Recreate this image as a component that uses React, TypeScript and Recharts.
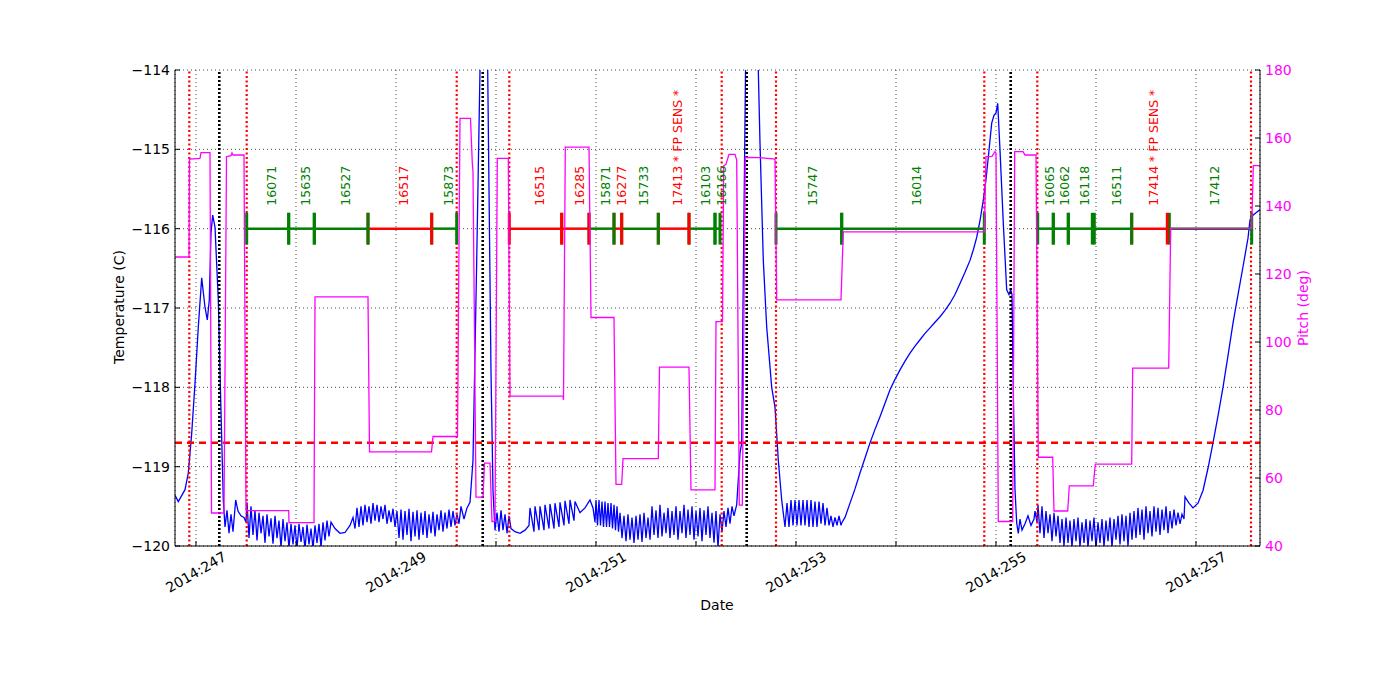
import React from 'react';
import { ComposedChart, Line, XAxis, YAxis, CartesianGrid, ReferenceLine, Scatter, Label } from 'recharts';

// x = day of year 2014
const dayTicks = [247, 248, 249, 250, 251, 252, 253, 254, 255, 256, 257];
const dayLabels = ['2014:247', '', '2014:249', '', '2014:251', '', '2014:253', '', '2014:255', '', '2014:257'];
const tempTicks = [-120, -119, -118, -117, -116, -115, -114];
const pitchTicks = [40, 60, 80, 100, 120, 140, 160, 180];

// FPTEMP (C)
const fptemp: [number, number][] = [
  [246.79, -119.36], [246.823, -119.44], [246.89, -119.29], [246.923, -119.08], [246.957, -118.58], [246.99, -117.95],
  [247.023, -117.24], [247.057, -116.62], [247.09, -116.99], [247.113, -117.15], [247.133, -116.9], [247.15, -116.05],
  [247.167, -115.83], [247.19, -115.98], [247.223, -116.9], [247.247, -118.16], [247.273, -119.42], [247.29, -119.76],
  [247.31, -119.55], [247.33, -119.84], [247.35, -119.6], [247.37, -119.82], [247.397, -119.42], [247.42, -119.56],
  [247.45, -119.62], [247.48, -119.64], [247.5, -119.7], [247.51, -119.45],
  [247.53, -119.9], [247.55, -119.5], [247.57, -119.86], [247.59, -119.55], [247.61, -119.93], [247.63, -119.58],
  [247.65, -119.84], [247.67, -119.62], [247.69, -119.96], [247.71, -119.6], [247.73, -119.88], [247.75, -119.65],
  [247.77, -119.97], [247.79, -119.62], [247.81, -119.9], [247.83, -119.68], [247.85, -120.02], [247.87, -119.66],
  [247.89, -119.94], [247.91, -119.7], [247.93, -120.03], [247.95, -119.72], [247.97, -119.98], [247.99, -119.74],
  [248.01, -120.03], [248.03, -119.72], [248.05, -119.95], [248.07, -119.76], [248.09, -120.04], [248.11, -119.73],
  [248.13, -119.98], [248.15, -119.78], [248.17, -120.03], [248.19, -119.74], [248.21, -119.96], [248.23, -119.72],
  [248.25, -120.02], [248.27, -119.7], [248.29, -119.93], [248.31, -119.68], [248.33, -119.88], [248.35, -119.7],
  [248.39, -119.78], [248.44, -119.84], [248.49, -119.83], [248.54, -119.74], [248.57, -119.64],
  [248.59, -119.78], [248.61, -119.52], [248.63, -119.76], [248.65, -119.5], [248.67, -119.74], [248.69, -119.48],
  [248.71, -119.7], [248.73, -119.5], [248.75, -119.72], [248.77, -119.46], [248.79, -119.68], [248.81, -119.48],
  [248.83, -119.7], [248.85, -119.5], [248.87, -119.66], [248.89, -119.48], [248.91, -119.72], [248.93, -119.55],
  [248.95, -119.7], [248.97, -119.53], [248.99, -119.76],
  [249.01, -119.56], [249.03, -119.9], [249.05, -119.54], [249.07, -119.92], [249.09, -119.56], [249.11, -119.86],
  [249.13, -119.53], [249.15, -119.94], [249.17, -119.57], [249.19, -119.88], [249.21, -119.55], [249.23, -119.92],
  [249.25, -119.58], [249.27, -119.86], [249.29, -119.56], [249.31, -119.9], [249.33, -119.6], [249.35, -119.84],
  [249.37, -119.57], [249.39, -119.88], [249.41, -119.6], [249.43, -119.8], [249.45, -119.55], [249.47, -119.82],
  [249.49, -119.58], [249.51, -119.78], [249.53, -119.54], [249.55, -119.76], [249.57, -119.56], [249.59, -119.74],
  [249.61, -119.6], [249.63, -119.72], [249.65, -119.5], [249.68, -119.66], [249.71, -119.52], [249.74, -119.45],
  [249.77, -118.92], [249.807, -116.4], [249.84, -114.0], [249.86, -113.0], [249.89, -112.6], [249.91, -113.2],
  [249.93, -115.5], [249.95, -117.8], [249.97, -119.3], [249.99, -119.8],
  [250.01, -119.58], [250.03, -119.82], [250.05, -119.55], [250.07, -119.8], [250.09, -119.6], [250.11, -119.84],
  [250.13, -119.62], [250.15, -119.78], [250.19, -119.82], [250.24, -119.84], [250.29, -119.8], [250.33, -119.74],
  [250.34, -119.52], [250.38, -119.82], [250.39, -119.5], [250.43, -119.8], [250.44, -119.5], [250.48, -119.8],
  [250.49, -119.48], [250.53, -119.78], [250.54, -119.47], [250.58, -119.78], [250.59, -119.46], [250.63, -119.76],
  [250.64, -119.45], [250.68, -119.74], [250.69, -119.43], [250.73, -119.72], [250.74, -119.42], [250.78, -119.68],
  [250.79, -119.44], [250.84, -119.58], [250.89, -119.52], [250.94, -119.42], [250.97, -119.52], [250.99, -119.7],
  [251.0, -119.42], [251.015, -119.74], [251.03, -119.42], [251.045, -119.74], [251.06, -119.44], [251.075, -119.76],
  [251.09, -119.44], [251.105, -119.76], [251.12, -119.46], [251.135, -119.76], [251.15, -119.46], [251.165, -119.78],
  [251.18, -119.48], [251.195, -119.8], [251.21, -119.5], [251.225, -119.82], [251.24, -119.58],
  [251.26, -119.9], [251.28, -119.62], [251.3, -119.94], [251.32, -119.6], [251.34, -119.92], [251.36, -119.64],
  [251.38, -119.96], [251.4, -119.62], [251.42, -119.92], [251.44, -119.6], [251.46, -119.95], [251.48, -119.58],
  [251.5, -119.9], [251.52, -119.64], [251.54, -119.92],
  [251.56, -119.5], [251.58, -119.86], [251.6, -119.55], [251.62, -119.9], [251.64, -119.48], [251.66, -119.88],
  [251.68, -119.58], [251.7, -119.84], [251.72, -119.52], [251.74, -119.9], [251.76, -119.56], [251.78, -119.86],
  [251.8, -119.5], [251.82, -119.92], [251.84, -119.56], [251.86, -119.84], [251.88, -119.48], [251.9, -119.9],
  [251.92, -119.54], [251.94, -119.86], [251.96, -119.5], [251.98, -119.92], [252.0, -119.56], [252.02, -119.88],
  [252.04, -119.52], [252.06, -119.94], [252.08, -119.55], [252.1, -119.86], [252.12, -119.5], [252.14, -119.9],
  [252.16, -119.58], [252.18, -119.96], [252.2, -119.56], [252.22, -120.02], [252.24, -119.6], [252.26, -119.82],
  [252.28, -119.56], [252.3, -119.76], [252.32, -119.52], [252.34, -119.72], [252.36, -119.5], [252.38, -119.62],
  [252.407, -119.48], [252.44, -118.83], [252.457, -118.7], [252.47, -117.0], [252.497, -113.8], [252.52, -112.8],
  [252.56, -112.6], [252.6, -113.4], [252.623, -114.0], [252.64, -114.92], [252.673, -116.4], [252.707, -117.24],
  [252.757, -118.0], [252.79, -118.25], [252.823, -118.92], [252.857, -119.42], [252.89, -119.76],
  [252.91, -119.46], [252.93, -119.76], [252.95, -119.42], [252.97, -119.74], [252.99, -119.42], [253.01, -119.74],
  [253.03, -119.42], [253.05, -119.74], [253.07, -119.42], [253.09, -119.74], [253.11, -119.42], [253.13, -119.76],
  [253.15, -119.42], [253.17, -119.76], [253.19, -119.44], [253.21, -119.76], [253.23, -119.44], [253.25, -119.72],
  [253.27, -119.46], [253.29, -119.74], [253.31, -119.52], [253.33, -119.74], [253.35, -119.62], [253.37, -119.76],
  [253.39, -119.64], [253.41, -119.74], [253.43, -119.62], [253.45, -119.74], [253.457, -119.71],
  [253.49, -119.64], [253.54, -119.46], [253.59, -119.28], [253.64, -119.08], [253.69, -118.89], [253.74, -118.7],
  [253.79, -118.53], [253.84, -118.37], [253.89, -118.2], [253.94, -118.03], [253.99, -117.9], [254.04, -117.78],
  [254.09, -117.67], [254.14, -117.57], [254.19, -117.48], [254.24, -117.4], [254.29, -117.32], [254.34, -117.25],
  [254.39, -117.18], [254.44, -117.11], [254.49, -117.03], [254.54, -116.94], [254.59, -116.83], [254.64, -116.69],
  [254.69, -116.55], [254.74, -116.4], [254.775, -116.26], [254.807, -116.11], [254.84, -115.9], [254.873, -115.64],
  [254.9, -115.38], [254.923, -115.1], [254.957, -114.67], [254.98, -114.57], [255.0, -114.54], [255.017, -114.42],
  [255.04, -115.01], [255.073, -115.93], [255.107, -116.77], [255.13, -116.83], [255.147, -116.77], [255.16, -116.83],
  [255.173, -118.03], [255.19, -119.29], [255.207, -119.71], [255.223, -119.84],
  [255.24, -119.66], [255.26, -119.8], [255.29, -119.72], [255.32, -119.62], [255.35, -119.74], [255.38, -119.66],
  [255.39, -119.56], [255.41, -119.7],
  [255.42, -119.48], [255.44, -119.84], [255.46, -119.5], [255.48, -119.9], [255.5, -119.56], [255.52, -119.84],
  [255.54, -119.6], [255.56, -119.94], [255.58, -119.58], [255.6, -119.88], [255.62, -119.62], [255.64, -119.96],
  [255.66, -119.66], [255.68, -120.0], [255.7, -119.64], [255.72, -119.96], [255.74, -119.68], [255.76, -120.02],
  [255.78, -119.66], [255.8, -119.94], [255.82, -119.64], [255.84, -120.01], [255.86, -119.7], [255.88, -119.96],
  [255.9, -119.66], [255.92, -120.02], [255.94, -119.68], [255.96, -119.94], [255.98, -119.64], [256.0, -120.03],
  [256.02, -119.7], [256.04, -119.96], [256.06, -119.66], [256.08, -120.01], [256.1, -119.68], [256.12, -119.94],
  [256.14, -119.64], [256.16, -120.02], [256.18, -119.66], [256.2, -119.92], [256.22, -119.62], [256.24, -119.98],
  [256.26, -119.6], [256.28, -119.94], [256.3, -119.62], [256.32, -120.0], [256.34, -119.58], [256.36, -119.92],
  [256.38, -119.56], [256.4, -119.9], [256.42, -119.52], [256.44, -119.86], [256.46, -119.54], [256.48, -119.92],
  [256.5, -119.5], [256.52, -119.84], [256.54, -119.56], [256.56, -119.88], [256.58, -119.5], [256.6, -119.82],
  [256.62, -119.52], [256.64, -119.86], [256.66, -119.54], [256.68, -119.8], [256.7, -119.5], [256.72, -119.84],
  [256.74, -119.56], [256.76, -119.78], [256.78, -119.54], [256.8, -119.74], [256.82, -119.58], [256.84, -119.72],
  [256.86, -119.6], [256.88, -119.66], [256.89, -119.38], [256.93, -119.46], [256.97, -119.52], [257.02, -119.46],
  [257.07, -119.3], [257.12, -119.02], [257.17, -118.7], [257.22, -118.36], [257.27, -118.0], [257.32, -117.6],
  [257.37, -117.19], [257.42, -116.83], [257.47, -116.48], [257.52, -116.12], [257.54, -115.89], [257.57, -115.83],
  [257.6, -115.8], [257.64, -115.76],
];

// Pitch (deg)
const pitch: [number, number][] = [
  [246.79, 125], [246.93, 125], [246.935, 153.8], [247.04, 154], [247.05, 155.7], [247.14, 155.7], [247.155, 49.7],
  [247.28, 49.7], [247.305, 154.5], [247.35, 154.8], [247.36, 155.6], [247.37, 155.0], [247.48, 155.0], [247.5, 50.4],
  [247.927, 50.4], [247.93, 46.9], [248.18, 46.9], [248.19, 113.3], [248.72, 113.3], [248.735, 67.7], [249.355, 67.7],
  [249.37, 72.2], [249.615, 72.2], [249.64, 165.8], [249.745, 165.8], [249.763, 152.6], [249.77, 150], [249.8, 54.4],
  [249.87, 54.4], [249.885, 64.4], [249.94, 64.4], [249.96, 47.2], [249.99, 47.2], [250.013, 154], [250.123, 154],
  [250.14, 84.1], [250.67, 84.1], [250.675, 83], [250.693, 157.3], [250.93, 157.3], [250.95, 107.2], [251.18, 107.2],
  [251.2, 58.1], [251.257, 58.1], [251.27, 65.7], [251.623, 65.7], [251.635, 92.6], [251.93, 92.6], [251.95, 56.5],
  [252.19, 56.5], [252.2, 106], [252.265, 106], [252.277, 151.8], [252.3, 152.3], [252.33, 155.2], [252.39, 155.2],
  [252.407, 153.5], [252.433, 52], [252.463, 52], [252.493, 154.3], [252.64, 154.2], [252.79, 153.8], [252.807, 112.4],
  [253.45, 112.4], [253.473, 132.4], [254.883, 132.4], [254.9, 154.5], [254.96, 154.6], [254.99, 156], [255.0, 155.6],
  [255.023, 47.2], [255.167, 47.2], [255.187, 156], [255.27, 156], [255.29, 155], [255.4, 155], [255.423, 66.1],
  [255.567, 66.1], [255.58, 50.3], [255.717, 50.3], [255.733, 57.7], [255.973, 57.7], [255.993, 64.1], [256.357, 64.1],
  [256.367, 92.3], [256.727, 92.3], [256.747, 133.4], [257.557, 133.4], [257.573, 151.9], [257.64, 151.9],
];

// observation intervals
const obsNames = ['16071', '15635', '16527', '16517', '15873', '16515', '16285', '15871', '16277', '15733',
  '17413 * FP SENS *', '16103', '16166', '15747', '16014', '16065', '16062', '16118', '16511', '17414 * FP SENS *', '17412'];
const obsStart = [247.507, 247.927, 248.183, 248.72, 249.357, 250.133, 250.657, 250.93, 251.18, 251.257,
  251.623, 251.93, 252.19, 252.8, 253.457, 255.417, 255.573, 255.723, 255.983, 256.357, 256.733];
const obsStop = [247.927, 248.183, 248.72, 249.357, 249.607, 250.657, 250.93, 251.18, 251.257, 251.623,
  251.93, 252.19, 252.24, 253.457, 254.883, 255.573, 255.723, 255.963, 256.357, 256.713, 257.557];
const obsColor = ['g', 'g', 'g', 'r', 'g', 'r', 'r', 'g', 'r', 'g',
  'r', 'g', 'g', 'g', 'g', 'g', 'g', 'g', 'g', 'r', 'g'];

const redLines = [246.933, 247.507, 249.607, 250.133, 252.257, 252.8, 254.883, 255.413, 257.55];
const blackLines = [247.233, 249.867, 252.507, 255.147];
const fpLimit = -118.7;
const obsLevel = -116;

const GREEN = '#008000';
const RED = '#ff0000';
const BLUE = '#0000ff';
const MAGENTA = '#ff00ff';

const tempData = fptemp.map(([day, temp]) => ({ day, temp }));
const pitchData = pitch.map(([day, p]) => ({ day, pitch: p }));
const obsLabels = obsNames.map((name, i) => ({
  day: (obsStart[i] + obsStop[i]) / 2,
  temp: obsLevel,
  name,
  color: obsColor[i] === 'r' ? RED : GREEN,
}));

const minus = (v: number) => String(v).replace('-', '\u2212');

const DayTick = (props: any) => {
  const { x, y, index } = props;
  const txt = dayLabels[index];
  if (!txt) return <g />;
  return (
    <text transform={`translate(${x},${y + 21}) rotate(-30)`} textAnchor="middle" dominantBaseline="central" fontSize={14} fill="#000">
      {txt}
    </text>
  );
};

const ObsLabel = (props: any) => {
  const { cx, cy, payload } = props;
  const x = cx + 4;
  const y = cy - 23;
  return (
    <text x={x} y={y} transform={`rotate(-90 ${x} ${y})`} fill={payload.color} fontSize={12.5} textAnchor="start" dominantBaseline="central">
      {payload.name}
    </text>
  );
};

export default function App() {
  return (
    <div style={{ width: 1384, height: 684, fontFamily: '"DejaVu Sans", sans-serif', background: '#fff' }}>
      <ComposedChart width={1384} height={684} margin={{ top: 62, right: 72, bottom: 86, left: 0 }}>
        <CartesianGrid yAxisId="left" stroke="#000" strokeDasharray="1 3" strokeWidth={0.7} />
        <XAxis
          dataKey="day" type="number" domain={[246.79, 257.64]} allowDataOverflow ticks={dayTicks}
          height={60} stroke="#000" tickSize={-5} tickMargin={10} tick={<DayTick />} interval={0}
        >
          <Label content={() => <text x={709} y={597} textAnchor="middle" dominantBaseline="central" fontSize={14}>Date</text>} />
        </XAxis>
        <XAxis
          xAxisId="top" orientation="top" dataKey="day" type="number" domain={[246.79, 257.64]} allowDataOverflow
          ticks={dayTicks} height={0} stroke="#000" tickSize={-5} tick={false}
        >
          <Label content={() => <text x={709} y={50} textAnchor="middle" dominantBaseline="central" fontSize={16.5}>FPTEMP</text>} />
        </XAxis>
        <YAxis
          yAxisId="left" type="number" domain={[-120, -114]} allowDataOverflow ticks={tempTicks} width={167}
          stroke="#000" tickSize={-5} tickMargin={10} tick={{ fill: '#000', fontSize: 14 }} tickFormatter={minus}
        >
          <Label content={() => <text x={111} y={299} transform="rotate(-90 111 299)" textAnchor="middle" dominantBaseline="central" fontSize={14}>Temperature (C)</text>} />
        </YAxis>
        <YAxis
          yAxisId="right" orientation="right" type="number" domain={[40, 180]} allowDataOverflow ticks={pitchTicks} width={60}
          stroke="#000" tickSize={-5} tickMargin={10} tick={{ fill: MAGENTA, fontSize: 14 }}
        >
          <Label content={() => <text x={1295} y={300} transform="rotate(-90 1295 300)" textAnchor="middle" dominantBaseline="central" fontSize={14} fill={MAGENTA}>Pitch (deg)</text>} />
        </YAxis>

        <Line yAxisId="left" data={tempData} dataKey="temp" type="linear" stroke={BLUE} strokeWidth={1.3} dot={false} isAnimationActive={false} />

        {redLines.map((d) => (
          <ReferenceLine key={'r' + d} yAxisId="left" x={d} stroke={RED} strokeWidth={2.2} strokeDasharray="2 2.5" />
        ))}
        {blackLines.map((d) => (
          <ReferenceLine key={'k' + d} yAxisId="left" x={d} stroke="#000" strokeWidth={2.6} strokeDasharray="2 2" />
        ))}
        <ReferenceLine yAxisId="left" y={fpLimit} stroke={RED} strokeWidth={2.5} strokeDasharray="7 5" />

        {obsNames.map((n, i) => (
          <ReferenceLine
            key={'s' + i} yAxisId="left"
            segment={[{ x: obsStart[i], y: obsLevel }, { x: obsStop[i], y: obsLevel }]}
            stroke={obsColor[i] === 'r' ? RED : GREEN} strokeWidth={2.5}
          />
        ))}
        {obsNames.map((n, i) => (
          <ReferenceLine
            key={'a' + i} yAxisId="left"
            segment={[{ x: obsStart[i], y: obsLevel - 0.2 }, { x: obsStart[i], y: obsLevel + 0.2 }]}
            stroke={obsColor[i] === 'r' ? RED : GREEN} strokeWidth={3}
          />
        ))}
        {obsNames.map((n, i) => (
          <ReferenceLine
            key={'b' + i} yAxisId="left"
            segment={[{ x: obsStop[i], y: obsLevel - 0.2 }, { x: obsStop[i], y: obsLevel + 0.2 }]}
            stroke={obsColor[i] === 'r' ? RED : GREEN} strokeWidth={3}
          />
        ))}

        <Scatter yAxisId="left" data={obsLabels} dataKey="temp" shape={<ObsLabel />} isAnimationActive={false} />

        <Line yAxisId="right" data={pitchData} dataKey="pitch" type="linear" stroke={MAGENTA} strokeWidth={1.3} dot={false} isAnimationActive={false} />
      </ComposedChart>
    </div>
  );
}
